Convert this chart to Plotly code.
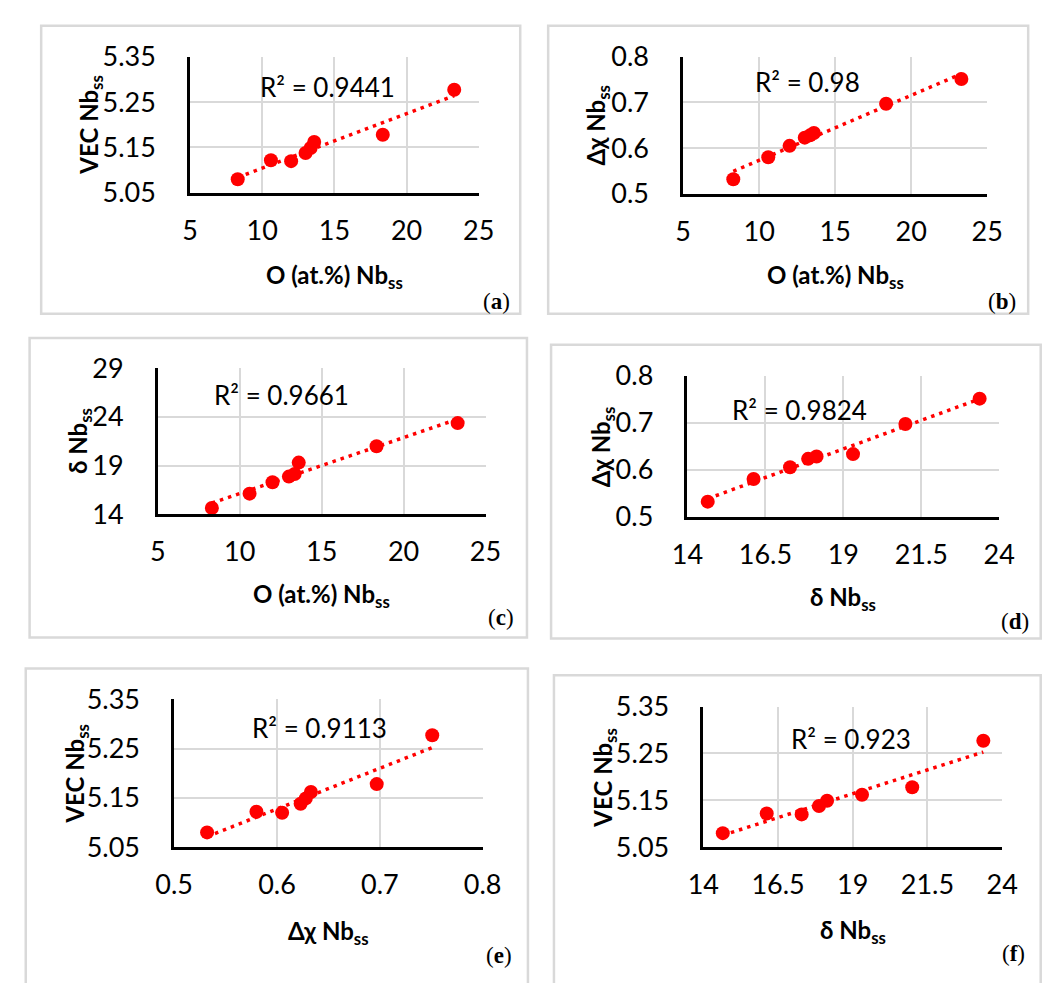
import numpy as np
import plotly.graph_objects as go

W, H = 1052, 983

# Nb solid-solution data (eight alloys)
o_at = [8.3, 10.6, 12.0, 13.0, 13.35, 13.6, 18.35, 23.3]
vec = [5.080, 5.122, 5.120, 5.138, 5.149, 5.162, 5.178, 5.277]
dchi = [0.532, 0.580, 0.605, 0.623, 0.628, 0.633, 0.697, 0.751]
delta = [14.65, 16.12, 17.29, 17.87, 18.14, 19.31, 20.99, 23.37]

r2_labels = ["R² = 0.9441", "R² = 0.98", "R² = 0.9661",
             "R² = 0.9824", "R² = 0.9113", "R² = 0.923"]
panel_letters = ["a", "b", "c", "d", "e", "f"]

o_ticks = [5, 10, 15, 20, 25]
delta_ticks = [14, 16.5, 19, 21.5, 24]
dchi_ticks = [0.5, 0.6, 0.7, 0.8]
vec_ticks = [5.05, 5.15, 5.25, 5.35]
delta_y_ticks = [14, 19, 24, 29]

T_O = "<b>O (at.%) Nb<sub>ss</sub></b>"
T_VEC = "<b>VEC Nb<sub>ss</sub></b>"
T_DCHI = "<b>Δχ Nb<sub>ss</sub></b>"
T_DELTA = "<b>δ Nb<sub>ss</sub></b>"

# layout of each panel in page pixels
panels = [
    dict(x=o_at, y=vec, xt=o_ticks, yt=vec_ticks, yfmt="{:.2f}", xfmt="{:g}",
         xtitle=T_O, ytitle=T_VEC,
         plot=(177.5, 477, 40, 181), frame=(23, 520, 8, 306),
         r2=(248, 71), ytpos=(74, 110), xtpos=(327, 267), lab=(495, 293)),
    dict(x=o_at, y=dchi, xt=o_ticks, yt=dchi_ticks, yfmt="{:.1f}", xfmt="{:g}",
         xtitle=T_O, ytitle=T_DCHI,
         plot=(689, 1004.5, 40, 182), frame=(549, 1047, 8, 306),
         r2=(761, 66.5), ytpos=(600, 111), xtpos=(847.5, 267), lab=(1020, 293)),
    dict(x=o_at, y=delta, xt=o_ticks, yt=delta_y_ticks, yfmt="{:g}", xfmt="{:g}",
         xtitle=T_O, ytitle=T_DELTA,
         plot=(144, 484, 362.5, 513.5), frame=(11, 527, 331, 641),
         r2=(200, 390), ytpos=(63, 438), xtpos=(314, 598), lab=(500, 620)),
    dict(x=delta, y=dchi, xt=delta_ticks, yt=dchi_ticks, yfmt="{:.1f}", xfmt="{:g}",
         xtitle=T_DELTA, ytitle=T_DCHI,
         plot=(693.5, 1017, 370, 516), frame=(552, 1060, 338, 642),
         r2=(738, 406), ytpos=(605, 444), xtpos=(854.7, 601), lab=(1033, 624)),
    dict(x=dchi, y=vec, xt=dchi_ticks, yt=vec_ticks, yfmt="{:.2f}", xfmt="{:.1f}",
         xtitle=T_DCHI, ytitle=T_VEC,
         plot=(161, 481, 705, 858), frame=(7, 528, 673, 1000),
         r2=(240, 735), ytpos=(60, 782), xtpos=(320.6, 946), lab=(498, 970)),
    dict(x=delta, y=vec, xt=delta_ticks, yt=vec_ticks, yfmt="{:.2f}", xfmt="{:g}",
         xtitle=T_DELTA, ytitle=T_VEC,
         plot=(710, 1020, 712.5, 858), frame=(555, 1060, 680, 1000),
         r2=(799, 746.5), ytpos=(608, 786), xtpos=(865, 945), lab=(1032, 968)),
]


def px(xv):
    return xv / W


def py(yv):
    return 1 - yv / H


RED = "#ff0000"
GRID = "#d9d9d9"
FONT = "Lato"

fig = go.Figure()
layout = dict(width=W, height=H, margin=dict(l=0, r=0, t=0, b=0),
              paper_bgcolor="white", plot_bgcolor="white", showlegend=False)
shapes, annotations = [], []

for i, p in enumerate(panels, start=1):
    xa = "x" if i == 1 else f"x{i}"
    ya = "y" if i == 1 else f"y{i}"
    x = np.array(p["x"])
    y = np.array(p["y"])

    # linear trendline across the data range
    k, b = np.polyfit(x, y, 1)
    xs = np.array([x.min(), x.max()])
    fig.add_trace(go.Scatter(x=xs, y=k * xs + b, mode="lines", xaxis=xa, yaxis=ya,
                             line=dict(color=RED, width=3.5, dash="3.5px,5px"),
                             hoverinfo="skip"))
    fig.add_trace(go.Scatter(x=x, y=y, mode="markers", xaxis=xa, yaxis=ya,
                             marker=dict(color=RED, size=14, line=dict(width=0))))

    x0, x1, y0, y1 = p["plot"]
    ax_common = dict(showgrid=True, gridcolor=GRID, gridwidth=2,
                     showline=True, linecolor="black", linewidth=2.5,
                     zeroline=False, ticks="outside",
                     tickcolor="rgba(0,0,0,0)",
                     tickfont=dict(family=FONT, size=27, color="black"))
    layout["xaxis" if i == 1 else f"xaxis{i}"] = dict(
        ax_common, domain=[px(x0), px(x1)], anchor=ya, ticklen=12,
        range=[p["xt"][0], p["xt"][-1]], tickmode="array",
        tickvals=p["xt"], ticktext=[p["xfmt"].format(v) for v in p["xt"]])
    layout["yaxis" if i == 1 else f"yaxis{i}"] = dict(
        ax_common, domain=[py(y1), py(y0)], anchor=xa, ticklen=26,
        range=[p["yt"][0], p["yt"][-1]], tickmode="array",
        tickvals=p["yt"], ticktext=[p["yfmt"].format(v) for v in p["yt"]])

    f0, f1, g0, g1 = p["frame"]
    shapes.append(dict(type="rect", xref="paper", yref="paper",
                       x0=px(f0), x1=px(f1), y0=py(g1), y1=py(g0),
                       line=dict(color=GRID, width=2.5), layer="below"))

    annotations.append(dict(text=r2_labels[i - 1], xref="paper", yref="paper",
                            x=px(p["r2"][0]), y=py(p["r2"][1]),
                            xanchor="left", yanchor="middle", showarrow=False,
                            font=dict(family=FONT, size=26, color="black")))
    annotations.append(dict(text=p["ytitle"], xref="paper", yref="paper",
                            x=px(p["ytpos"][0]), y=py(p["ytpos"][1]), textangle=-90,
                            xanchor="center", yanchor="middle", showarrow=False,
                            font=dict(family=FONT, size=24, color="black")))
    annotations.append(dict(text=p["xtitle"], xref="paper", yref="paper",
                            x=px(p["xtpos"][0]), y=py(p["xtpos"][1]),
                            xanchor="center", yanchor="middle", showarrow=False,
                            font=dict(family=FONT, size=24, color="black")))
    annotations.append(dict(text=f"(<b>{panel_letters[i - 1]}</b>)",
                            xref="paper", yref="paper",
                            x=px(p["lab"][0]), y=py(p["lab"][1]),
                            xanchor="center", yanchor="middle", showarrow=False,
                            font=dict(family="Liberation Serif", size=23, color="black")))

layout["shapes"] = shapes
layout["annotations"] = annotations
fig.update_layout(**layout)
fig.write_html("out.html")
